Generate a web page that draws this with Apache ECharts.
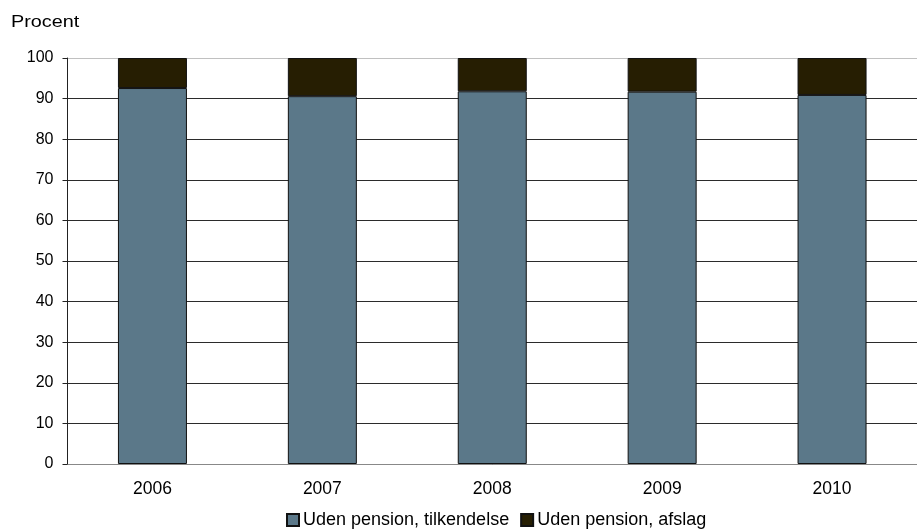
<!DOCTYPE html>
<html><head><meta charset="utf-8">
<script src="https://cdn.jsdelivr.net/npm/echarts@6/dist/echarts.min.js"></script>
<style>html,body{margin:0;padding:0;background:#fff}#c{width:917px;height:529px}</style>
</head><body><div id="c"></div>
<script>
const categories = ['2006','2007','2008','2009','2010'];
const tilkendelse = [92.6, 90.6, 91.8, 91.7, 90.9];
const afslag = [7.4, 9.4, 8.2, 8.3, 9.1];
const yTicks = [0,10,20,30,40,50,60,70,80,90,100];
const seriesNames = ['Uden pension, tilkendelse','Uden pension, afslag'];

const font = 'Liberation Sans, Arial, sans-serif';
const chart = echarts.init(document.getElementById('c'));
const gridColors = yTicks.map(v => v === 100 ? '#c0c0c0' : '#2b2b2b');
chart.setOption({
  animation: false,
  textStyle: { fontFamily: font },
  graphic: [{ type: 'text', x: 11, y: 14, scaleX: 1.2, style: { text: 'Procent', font: '16.5px ' + font, fill: '#000' } }],
  legend: {
    data: seriesNames, top: 506, left: 281, itemWidth: 12, itemHeight: 12, itemGap: 11,
    textStyle: { fontSize: 18, color: '#000', fontFamily: font, padding: [0,0,0,-1] },
    icon: 'rect'
  },
  grid: { left: 67.5, top: 58, width: 858, height: 406 },
  xAxis: {
    type: 'category', data: categories,
    axisLine: { lineStyle: { color: '#888', width: 1 } },
    axisTick: { show: false },
    axisLabel: { fontSize: 17.5, color: '#000', margin: 16, fontFamily: font }
  },
  yAxis: {
    type: 'value', min: 0, max: 100, interval: 10,
    axisLine: { show: true, lineStyle: { color: '#222' } },
    axisTick: { show: true, length: 5, lineStyle: { color: '#222' } },
    axisLabel: { fontSize: 16, color: '#000', margin: 14, fontFamily: font },
    splitLine: { lineStyle: { color: gridColors, width: 1 } }
  },
  series: [
    { name: seriesNames[0], type: 'bar', stack: 's', data: tilkendelse, barWidth: 69,
      itemStyle: { color: '#5b7889', borderColor: '#111', borderWidth: 1 } },
    { name: seriesNames[1], type: 'bar', stack: 's', data: afslag, barWidth: 69,
      itemStyle: { color: '#261e02', borderColor: '#111', borderWidth: 1 } }
  ]
});
</script></body></html>
